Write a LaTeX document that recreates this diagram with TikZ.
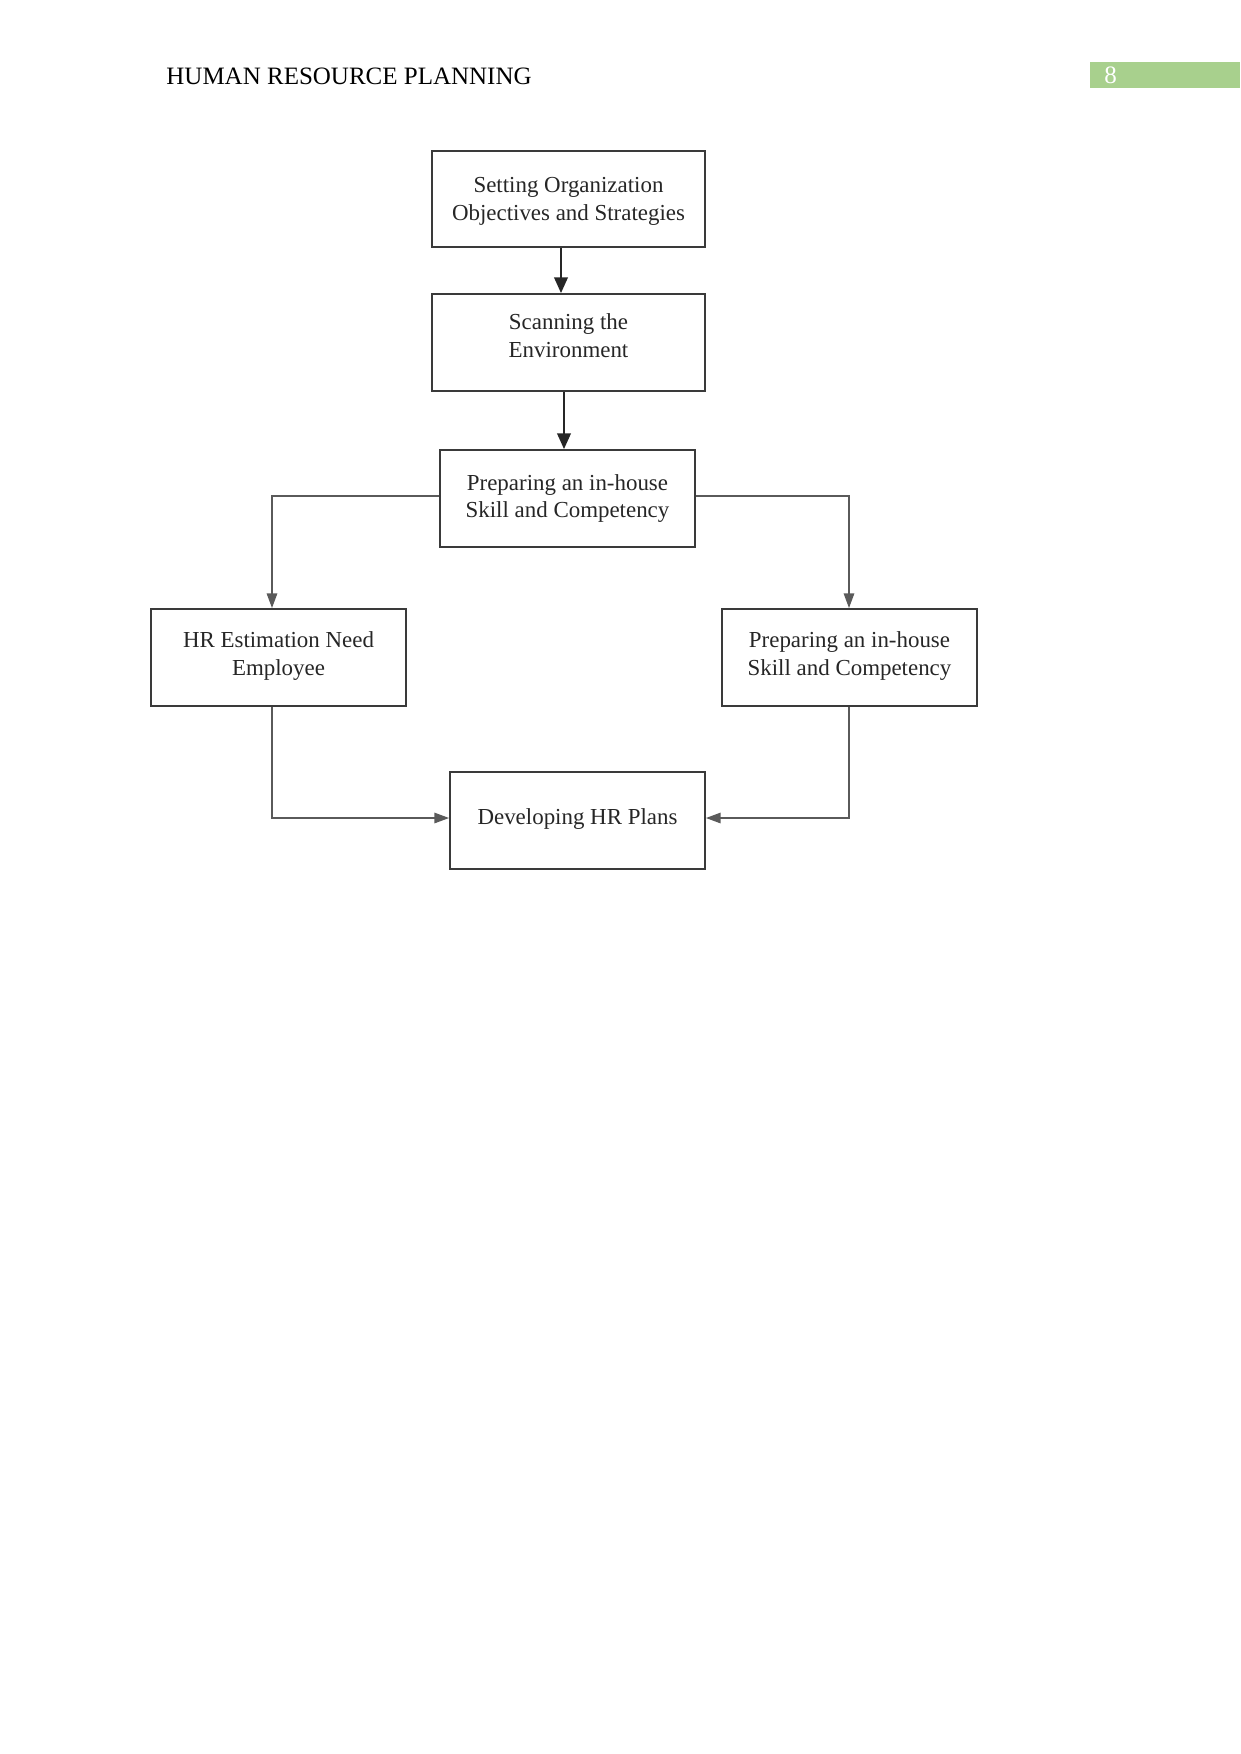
\documentclass[tikz,border=0pt]{standalone}
\usepackage{fontspec}
\setmainfont{Liberation Serif}
\usetikzlibrary{arrows.meta,fit}
\definecolor{hdrgreen}{HTML}{A8D08D}
\definecolor{boxline}{HTML}{3A3A3A}
\definecolor{conline}{HTML}{5A5A5A}
\tikzset{
  box/.style={draw=boxline, line width=0.9pt, inner sep=0pt},
  boxtext/.style={inner sep=0pt, align=center,
    font=\fontsize{11pt}{13.4pt}\selectfont, text=black!85},
  mainarrow/.style={draw=black!85, line width=0.9pt, -{Triangle[length=7.5pt,width=6.5pt]}},
  sidearrow/.style={draw=conline, line width=0.7pt, -{Triangle[length=7pt,width=5pt]}},
}
\begin{document}
\begin{tikzpicture}[x=0.48pt,y=-0.48pt]
\useasboundingbox (0,0) rectangle (1241,1754);
% header
\node[anchor=base west, inner sep=0pt, font=\fontsize{12pt}{14pt}\selectfont] (hdr) at (166,84) {HUMAN RESOURCE PLANNING};
\fill[hdrgreen] (1090,62) rectangle (1240,88);
\node[anchor=base west, inner sep=0pt, text=white, font=\fontsize{12pt}{14pt}\selectfont] (pg) at (1104,83) {8};
% boxes
\node[box, fit={(432,151) (705,247)}] (b1) {};
\node[box, fit={(432,294) (705,391)}] (b2) {};
\node[box, fit={(440,450) (695,547)}] (b3) {};
\node[box, fit={(151,609) (406,706)}] (b4) {};
\node[box, fit={(722,609) (977,706)}] (b5) {};
\node[box, fit={(450,772) (705,869)}] (b6) {};
% box texts
\node[boxtext] (t1) at ([yshift=-1pt]b1.center) {Setting Organization\\Objectives and Strategies};
\node[boxtext] (t2) at ([yshift=3.5pt]b2.center) {Scanning the\\Environment};
\node[boxtext] (t3) at (b3.center) {Preparing an in-house\\Skill and Competency};
\node[boxtext] (t4) at ([yshift=0.5pt]b4.center) {HR Estimation Need\\Employee};
\node[boxtext] (t5) at ([yshift=0.5pt]b5.center) {Preparing an in-house\\Skill and Competency};
\node[boxtext] (t6) at ([yshift=0.5pt]b6.center) {Developing HR Plans};
% guide coordinates
\coordinate (c1) at (561,0);
\coordinate (c2) at (564,0);
\coordinate (lx) at (272,0);
\coordinate (rx) at (849,0);
\coordinate (ty) at (0,496);
\coordinate (by) at (0,818);
% connectors
\draw[mainarrow] (b1.south -| c1) -- (b2.north -| c1);
\draw[mainarrow] (b2.south -| c2) -- (b3.north -| c2);
\draw[sidearrow] (b3.west |- ty) -| (b4.north -| lx);
\draw[sidearrow] (b3.east |- ty) -| (b5.north -| rx);
\draw[sidearrow] (b4.south -| lx) |- (b6.west |- by);
\draw[sidearrow] (b5.south -| rx) |- (b6.east |- by);
\end{tikzpicture}
\end{document}
